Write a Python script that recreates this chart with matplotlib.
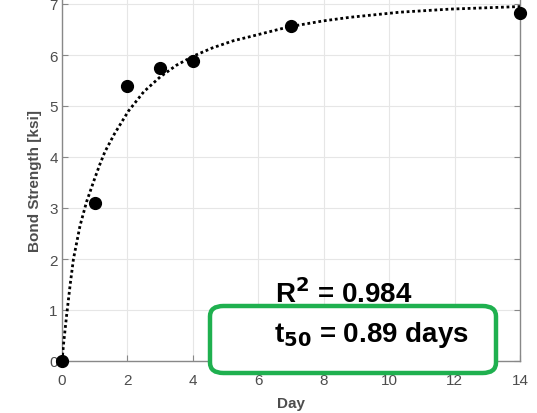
import numpy as np
import matplotlib
matplotlib.use("Agg")
import matplotlib.pyplot as plt
from matplotlib.patches import FancyBboxPatch

# measured data
day = [0, 1, 2, 3, 4, 7, 14]
strength = [0.0, 3.1, 5.4, 5.75, 5.88, 6.57, 6.83]

# fitted curve
fit_day = [0, 0.05, 0.14, 0.25, 0.35, 0.55, 0.75, 1.0, 1.16, 1.31, 1.6, 2.03, 2.5,
           3.0, 3.5, 4.02, 4.6, 5.24, 5.75, 6.67, 7.0, 8.0, 8.81, 10.34, 11.87, 14]
fit_strength = [0, 0.35, 0.89, 1.5, 2.0, 2.65, 3.12, 3.58, 3.86, 4.1, 4.45, 4.9, 5.28,
                5.57, 5.8, 5.98, 6.14, 6.28, 6.36, 6.51, 6.56, 6.67, 6.74, 6.84, 6.9, 6.95]

xticks = list(range(0, 15, 2))
yticks = list(range(0, 8))

plt.rcParams['font.family'] = ['Liberation Sans', 'DejaVu Sans']
gray = "#4d4d4d"

fig = plt.figure(figsize=(5.37, 4.14), dpi=100)
ax = fig.add_axes([62/537, 1-362/414, 458/537, 362/414])

ax.plot(fit_day, fit_strength, ls=(0, (1, 1)), color="black", lw=2.0, zorder=3)
ax.plot(day, strength, "o", color="black", ms=8.5, clip_on=False, zorder=4)

ax.set_xlim(0, 14)
ax.set_ylim(0, 362/51)
ax.set_xticks(xticks)
ax.set_yticks(yticks)
ax.grid(True, color="#e6e6e6", lw=0.8)
ax.set_axisbelow(True)
ax.tick_params(direction="in", top=False, right=True, length=4, colors="#888888",
               labelcolor=gray, labelsize=11, pad=3)
ax.tick_params(axis="x", pad=9)
for s in ax.spines.values():
    s.set_color("#888888")
    s.set_linewidth(1.0)
ax.spines["top"].set_visible(False)

ax.set_xlabel("Day", fontsize=11, fontweight="bold", color=gray, labelpad=6)
ax.set_ylabel("Bond Strength [ksi]", fontsize=11, fontweight="bold", color=gray, labelpad=5)

fig.text(275/537, 1-303/414, "R$^\\mathbf{2}$ = 0.984", fontsize=20, fontweight="bold",
         color="black", ha="left", va="baseline", zorder=5)

box = FancyBboxPatch((210/537, 1-374/414), 286/537, 67/414,
                     boxstyle="round,pad=0,rounding_size=0.025",
                     transform=fig.transFigure, facecolor="white",
                     edgecolor="#1fb04f", lw=3.2, zorder=6)
fig.patches.append(box)

fig.text(274/537, 1-342/414, "t$_\\mathbf{50}$ = 0.89 days", fontsize=20, fontweight="bold",
         color="black", ha="left", va="baseline", zorder=7)

fig.savefig("out.png", dpi=100)
